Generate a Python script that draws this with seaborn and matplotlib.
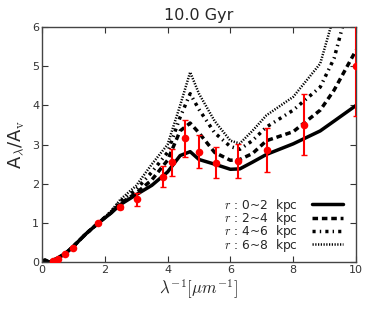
import matplotlib
matplotlib.use("Agg")
import matplotlib.pyplot as plt
import seaborn as sns
import numpy as np

# model grid
xs = [0.0, 0.1, 0.25, 0.5, 0.75, 1.0, 1.4, 1.8, 2.2, 2.5, 3.0, 3.5, 4.0, 4.4, 4.72,
      5.0, 5.5, 6.0, 6.3, 6.7, 7.15, 8.0, 8.86, 9.3, 10.0]
r0_2 = [0.02, 0.05, 0.0, 0.1, 0.22, 0.4, 0.72, 1.0, 1.25, 1.47, 1.72, 1.96, 2.3, 2.72, 2.82,
        2.62, 2.5, 2.37, 2.38, 2.55, 2.75, 3.02, 3.35, 3.6, 4.0]
r2_4 = [0.02, 0.05, 0.0, 0.1, 0.22, 0.4, 0.72, 1.0, 1.26, 1.5, 1.76, 2.1, 2.6, 3.35, 3.55,
        3.3, 2.8, 2.6, 2.62, 2.77, 3.1, 3.33, 3.88, 4.39, 5.41]
r4_6 = [0.02, 0.05, 0.0, 0.1, 0.22, 0.4, 0.72, 1.0, 1.28, 1.55, 1.85, 2.3, 2.8, 3.7, 4.3,
        3.9, 3.3, 2.95, 2.88, 3.1, 3.45, 3.88, 4.47, 5.2, 7.3]
r6_8 = [0.02, 0.05, 0.0, 0.1, 0.22, 0.4, 0.72, 1.0, 1.3, 1.6, 1.95, 2.5, 3.0, 4.0, 4.85,
        4.3, 3.6, 3.1, 3.03, 3.35, 3.75, 4.22, 5.07, 6.3, 8.0]

# observed
obs_x = [0.35, 0.5, 0.74, 1.0, 1.8, 2.5, 3.02, 3.85, 4.15, 4.54, 5.0, 5.55, 6.25, 7.15, 8.33, 10.0]
obs_y = [0.03, 0.08, 0.2, 0.36, 0.99, 1.41, 1.6, 2.18, 2.55, 3.16, 2.82, 2.54, 2.59, 2.86, 3.51, 5.01]
obs_e = [0.0, 0.0, 0.0, 0.0, 0.02, 0.06, 0.17, 0.27, 0.35, 0.48, 0.42, 0.4, 0.43, 0.57, 0.78, 1.28]

labels = [r"$r$ : 0~2  kpc", r"$r$ : 2~4  kpc", r"$r$ : 4~6  kpc", r"$r$ : 6~8  kpc"]

sns.set_style("ticks")
plt.rcParams['font.family'] = ['DejaVu Sans']
plt.rcParams['mathtext.fontset'] = 'cm'

fig = plt.figure(figsize=(3.74, 3.12), dpi=100)
ax = fig.add_axes([0.112, 0.160, 0.840, 0.753])

styles = ['-', (0, (1.6, 1.1)), (0, (0.9, 1.2, 0.4, 1.2)), (0, (0.5, 0.6))]
lws = [2.5, 2.5, 2.5, 1.8]
for ys, lab, ls, lw in zip([r0_2, r2_4, r4_6, r6_8], labels, styles, lws):
    sns.lineplot(x=xs, y=ys, ax=ax, color='black', linestyle=ls, lw=lw, label=lab)

ax.errorbar(obs_x, obs_y, yerr=obs_e, fmt='none', ecolor='red', elinewidth=1.5,
            capsize=2, capthick=1, zorder=5)
sns.scatterplot(x=obs_x, y=obs_y, ax=ax, color='red', s=30, edgecolor='red', linewidth=0,
                zorder=6, legend=False)

ax.set_xlim(0, 10)
ax.set_ylim(0, 6)
ax.set_xticks([0, 2, 4, 6, 8, 10])
ax.set_yticks([0, 1, 2, 3, 4, 5, 6])
ax.tick_params(direction='in', top=True, right=True, length=4, width=0.8,
               labelsize=8, colors='#333333', pad=2)
for sp in ax.spines.values():
    sp.set_color('#444444')
    sp.set_linewidth(1.0)

ax.set_title("10.0 Gyr", fontsize=11.5, pad=5)
ax.set_xlabel(r"$\lambda^{-1}[\mu m^{-1}]$", fontsize=12, labelpad=2)
ax.set_ylabel(r"A$_\lambda$/A$_\mathrm{v}$", fontsize=13, labelpad=4)

leg = ax.legend(loc='lower right', bbox_to_anchor=(0.985, 0.0), frameon=False,
                markerfirst=False, fontsize=8.8, labelspacing=-0.3, handlelength=2.5,
                handletextpad=1.15, borderpad=0.2)

fig.savefig("out.png", dpi=100)
